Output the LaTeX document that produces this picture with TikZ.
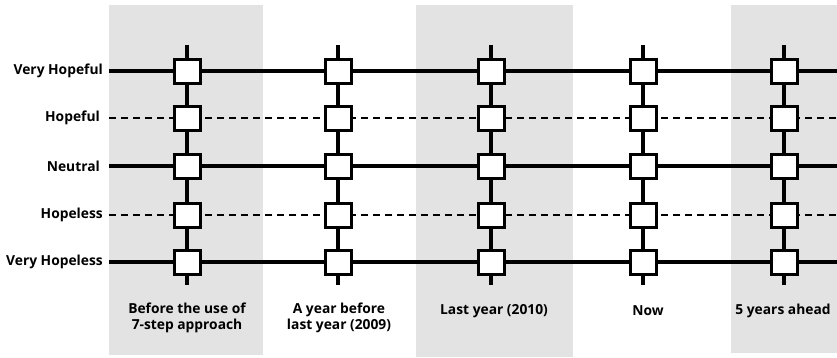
\documentclass[tikz,border=0pt]{standalone}
\usepackage{fontspec}
\setmainfont{Open Sans}[UprightFont=* Bold,BoldFont=* Bold]
\begin{document}
\begin{tikzpicture}[x=1pt,y=-1pt,
  band/.style={fill=black!11,draw=none},
  cell/.style={draw=black,line width=3pt,fill=white,minimum width=26pt,minimum height=24pt,inner sep=0pt},
  solidline/.style={line width=3.3pt},
  dashline/.style={line width=1.6pt,dash pattern=on 7pt off 5pt},
  vline/.style={line width=3.3pt},
  rowlab/.style={anchor=east,font=\fontsize{13.8}{16}\selectfont,inner sep=0pt},
  collab/.style={align=center,font=\fontsize{13.8}{16.5}\selectfont,inner sep=0pt}]
\useasboundingbox (0,0) rectangle (837,357);
\fill[band] (109,5) rectangle (263,355);
\fill[band] (416,5) rectangle (573,357);
\fill[band] (731,5) rectangle (837,353);
% row labels
\node[rowlab] (r1) at (103,71) {Very Hopeful};
\node[rowlab] (r2) at (100,118) {Hopeful};
\node[rowlab] (r3) at (100,166) {Neutral};
\node[rowlab] (r4) at (103,215) {Hopeless};
\node[rowlab] (r5) at (103,262) {Very Hopeless};
% columns
\foreach \c/\x in {1/187,2/338,3/491,4/643,5/784}{
  \coordinate (t\c) at (\x,45);
  \coordinate (u\c) at (\x,285);
  \foreach \r/\y in {1/71,2/118,3/166,4/215,5/262}{
    \coordinate (p\c\r) at (\x,\y);
  }
}
\foreach \r/\y in {1/71,2/118,3/166,4/215,5/262}{
  \coordinate (s\r) at (109,\y);
  \coordinate (e\r) at (837,\y);
}
\foreach \r in {1,3,5}{ \draw[solidline] (s\r) -- (e\r); }
\foreach \r in {2,4}{ \draw[dashline] (s\r) -- (e\r); }
\foreach \c in {1,...,5}{ \draw[vline] (t\c) -- (u\c); }
\foreach \c in {1,...,5}{
  \foreach \r in {1,...,5}{
    \node[cell] (b\c\r) at (p\c\r) {};
  }
}
% column labels
\node[collab] (c1) at (187,318) {Before the use of\\7-step approach};
\node[collab] (c2) at (339,318) {A year before\\last year (2009)};
\node[collab] (c3) at (494,311) {Last year (2010)};
\node[collab] (c4) at (648,311) {Now};
\node[collab] (c5) at (783,311) {5 years ahead};
\end{tikzpicture}
\end{document}
